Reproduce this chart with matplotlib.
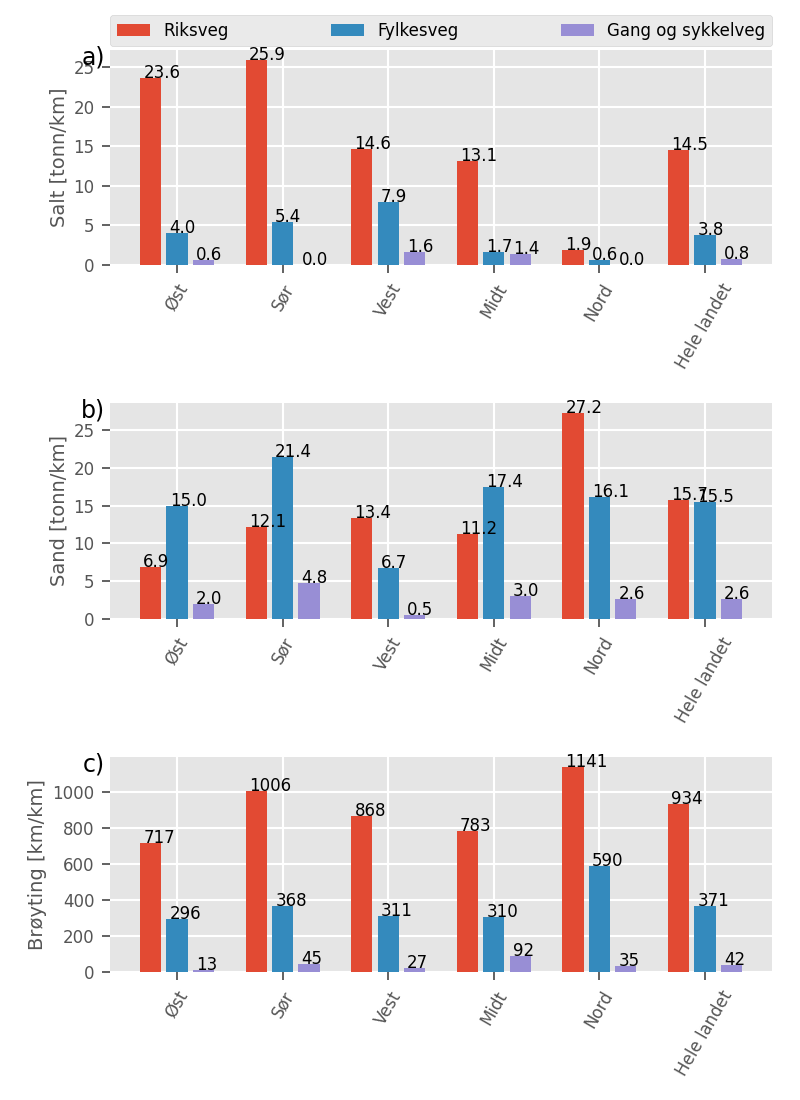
import numpy as np
import matplotlib
matplotlib.use('Agg')
import matplotlib.pyplot as plt

plt.style.use('ggplot')
plt.rcParams['font.size'] = 12

regions = ['Øst', 'Sør', 'Vest', 'Midt', 'Nord', 'Hele landet']
series = ['Riksveg', 'Fylkesveg', 'Gang og sykkelveg']

salt_rv = [23.6, 25.9, 14.6, 13.1, 1.9, 14.5]
salt_fv = [4.0, 5.4, 7.9, 1.7, 0.6, 3.8]
salt_gs = [0.6, 0.0, 1.6, 1.4, 0.0, 0.8]

sand_rv = [6.9, 12.1, 13.4, 11.2, 27.2, 15.7]
sand_fv = [15.0, 21.4, 6.7, 17.4, 16.1, 15.5]
sand_gs = [2.0, 4.8, 0.5, 3.0, 2.6, 2.6]

broyt_rv = [717, 1006, 868, 783, 1141, 934]
broyt_fv = [296, 368, 311, 310, 590, 371]
broyt_gs = [13, 45, 27, 92, 35, 42]

panels = [
    ('a)', 'Salt [tonn/km]', [salt_rv, salt_fv, salt_gs], '{:.1f}'),
    ('b)', 'Sand [tonn/km]', [sand_rv, sand_fv, sand_gs], '{:.1f}'),
    ('c)', 'Brøyting [km/km]', [broyt_rv, broyt_fv, broyt_gs], '{:.0f}'),
]

colors = ['#E24A33', '#348ABD', '#988ED5']
w = 0.2
offsets = [-0.25, 0.0, 0.25]

fig, axes = plt.subplots(3, 1, figsize=(8, 11), dpi=100)
fig.subplots_adjust(left=0.1375, right=0.965, top=0.955, bottom=0.116, hspace=0.64)

x = np.arange(len(regions))
for ax, (tag, ylab, data, fmt) in zip(axes, panels):
    for vals, off, c, name in zip(data, offsets, colors, series):
        ax.bar(x + off, vals, width=w, color=c, label=name)
        for xi, v in zip(x, vals):
            ax.text(xi + off - w / 2 + 0.03, v, fmt.format(v), fontsize=12, color='black')
    ax.set_xticks(x)
    ax.set_xticklabels(regions, rotation=60)
    ax.set_ylabel(ylab, fontsize=14, color='#555555')
    ax.tick_params(axis='both', labelsize=12, length=6, width=1.3, color='#555555', pad=5)
    ax.grid(True, color='white', linewidth=1.5)
    for sp in ax.spines.values():
        sp.set_visible(False)
    ax.text(-0.008, 0.965, tag, transform=ax.transAxes, ha='right', va='center', fontsize=17)

axes[0].legend(bbox_to_anchor=(0, 1.015, 1, 0.14), loc='lower left', mode='expand',
               ncol=3, borderaxespad=0, fontsize=12)

plt.savefig('out.png')
